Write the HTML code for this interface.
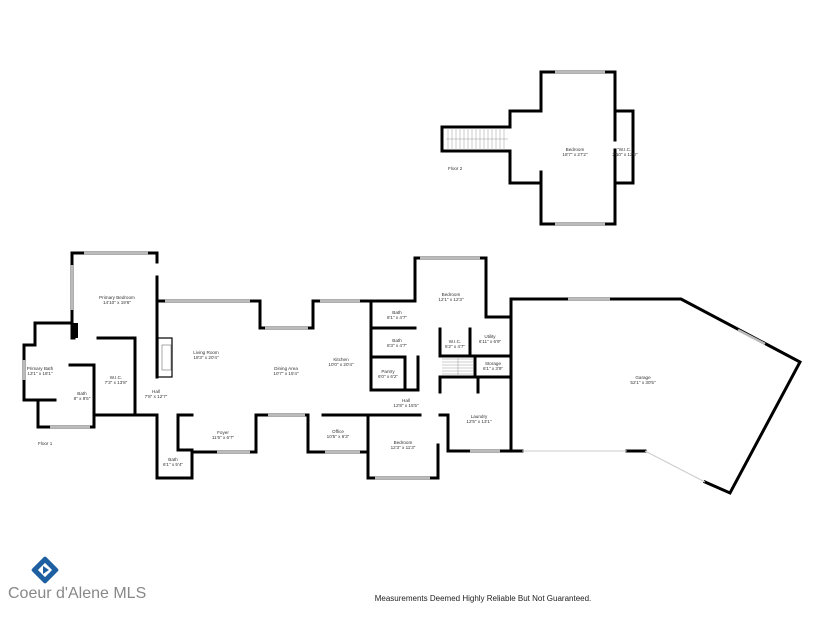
<!DOCTYPE html>
<html><head><style>
body{margin:0;background:#fff}
svg{display:block}
text{font-family:"Liberation Sans",sans-serif;font-size:4.6px;fill:#333;text-anchor:middle}
.w{fill:none;stroke:#000;stroke-width:3;stroke-linecap:square}
.t{fill:none;stroke:#000;stroke-width:1.6}
.win{stroke:#bbb;stroke-width:2.5}
</style></head><body>
<svg width="825" height="618" viewBox="0 0 825 618">
<!-- Floor 2 -->
<g class="w">
<polyline points="541,111 541,72 615,72 615,111 633,111 633,183 615,183 615,224 541,224 541,183 510,183 510,151"/>
<polyline points="541,111 510,111 510,127"/>
<polyline points="510,127 442,127 442,151 510,151"/>
<line x1="541" y1="183" x2="541" y2="172"/>
<line x1="615" y1="111" x2="615" y2="140"/>
<line x1="615" y1="150" x2="615" y2="183"/>
</g>
<g class="win"><line x1="555" y1="72" x2="605" y2="72"/><line x1="555" y1="224" x2="605" y2="224"/></g>
<g stroke="#999" stroke-width="0.5">
<line x1="446" y1="139" x2="508" y2="139"/>
<path d="M448 128v22M452 128v22M456 128v22M460 128v22M464 128v22M468 128v22M472 128v22M476 128v22M480 128v22M484 128v22M488 128v22M492 128v22M496 128v22M500 128v22M504 128v22"/>
</g>
<text x="575" y="151">Bedroom</text><text x="575" y="156">18'7" x 27'2"</text>
<text x="625" y="151">"W.I.C."</text><text x="625" y="156">2'10" x 12'0"</text>
<text x="448" y="170" style="text-anchor:start">Floor 2</text>

<!-- Floor 1 -->
<g class="w">
<polyline points="72,338 72,253 157,253 157,262"/>
<polyline points="157,277 157,377"/>
<polyline points="157,301 260,301 260,328 313,328 313,301 415,301 415,258 486,258 486,317 511,317 511,299"/>
<polyline points="24,345 35,345 35,323 72,323"/>
<polyline points="24,345 24,400 55,400"/>
<polyline points="38,400 38,427 94,427 94,365"/>
<polyline points="70,365 94,365"/>
<polyline points="98,338 135,338 135,415 157,415 157,478 192,478 192,450 178,450 178,415 192,415"/>
<polyline points="94,415 135,415"/>
<polyline points="192,452 256,452 256,415 305,415"/>
<polyline points="308,415 308,452 368,452"/>
<polyline points="323,415 368,415 368,478 438,478 438,445"/>
<polyline points="368,415 420,415"/>
<polyline points="440,415 448,415 448,451 511,451"/>
<polyline points="511,299 681,299 800,362 730,493 705,482"/>
<line x1="511" y1="299" x2="511" y2="451"/>
<line x1="511" y1="451" x2="522" y2="451"/>
<line x1="627" y1="451" x2="645" y2="451"/>
<polyline points="371,301 371,390 405,390 405,357 371,357"/>
<polyline points="371,328 415,328"/>
<polyline points="405,390 418,390 418,357"/>
<polyline points="440,329 440,356 470,356 470,329"/>
<polyline points="470,356 511,356"/>
<polyline points="475,356 475,377 511,377"/>
<polyline points="440,392 440,377 478,377 478,392"/>
<polyline points="74,329 74,338"/>
</g>
<rect x="72" y="323" width="6" height="15" fill="#000"/>
<g class="win">
<line x1="84" y1="253" x2="148" y2="253"/><line x1="165" y1="301" x2="250" y2="301"/>
<line x1="265" y1="328" x2="308" y2="328"/><line x1="320" y1="301" x2="360" y2="301"/>
<line x1="420" y1="258" x2="480" y2="258"/><line x1="568" y1="299" x2="610" y2="299"/>
<line x1="738" y1="330" x2="765" y2="344"/><line x1="50" y1="427" x2="90" y2="427"/>
<line x1="217" y1="452" x2="250" y2="452"/><line x1="268" y1="415" x2="305" y2="415"/>
<line x1="325" y1="452" x2="360" y2="452"/><line x1="375" y1="478" x2="430" y2="478"/>
<line x1="470" y1="451" x2="500" y2="451"/><line x1="72" y1="265" x2="72" y2="310"/>
<line x1="24" y1="360" x2="24" y2="380"/>
</g>
<line x1="645" y1="451" x2="705" y2="482" stroke="#ccc" stroke-width="1"/>
<line x1="522" y1="451" x2="627" y2="451" stroke="#ccc" stroke-width="1"/>
<rect x="158" y="338" width="14" height="39" fill="none" stroke="#000" stroke-width="1.2"/>
<rect x="162" y="345" width="9" height="25" fill="none" stroke="#555" stroke-width="0.5"/>
<g stroke="#999" stroke-width="0.5"><path d="M442 359h32M442 362h32M442 365h32M442 368h32M442 371h32M442 374h32"/><line x1="458" y1="358" x2="458" y2="376"/></g>
<text x="117" y="299">Primary Bedroom</text><text x="117" y="304">14'10" x 19'6"</text>
<text x="40" y="370">Primary Bath</text><text x="40" y="375">13'1" x 18'1"</text>
<text x="82" y="395">Bath</text><text x="82" y="400">8" x 8'5"</text>
<text x="116" y="379">W.I.C.</text><text x="116" y="384">7'3" x 13'8"</text>
<text x="206" y="354">Living Room</text><text x="206" y="359">18'3" x 20'4"</text>
<text x="286" y="370">Dining Area</text><text x="286" y="375">10'7" x 15'4"</text>
<text x="341" y="361">Kitchen</text><text x="341" y="366">10'0" x 20'4"</text>
<text x="156" y="393">Hall</text><text x="156" y="398">7'8" x 12'7"</text>
<text x="223" y="434">Foyer</text><text x="223" y="439">11'6" x 6'7"</text>
<text x="173" y="461">Bath</text><text x="173" y="466">6'1" x 5'4"</text>
<text x="338" y="433">Office</text><text x="338" y="438">10'5" x 6'3"</text>
<text x="403" y="444">Bedroom</text><text x="403" y="449">12'3" x 11'3"</text>
<text x="397" y="314">Bath</text><text x="397" y="319">8'1" x 4'7"</text>
<text x="397" y="342">Bath</text><text x="397" y="347">8'3" x 4'7"</text>
<text x="388" y="373">Pantry</text><text x="388" y="378">6'0" x 6'2"</text>
<text x="406" y="402">Hall</text><text x="406" y="407">12'8" x 15'5"</text>
<text x="451" y="296">Bedroom</text><text x="451" y="301">12'1" x 12'3"</text>
<text x="455" y="343">W.I.C.</text><text x="455" y="348">5'2" x 4'7"</text>
<text x="490" y="338">Utility</text><text x="490" y="343">6'11" x 6'9"</text>
<text x="493" y="365">Storage</text><text x="493" y="370">6'1" x 3'9"</text>
<text x="479" y="418">Laundry</text><text x="479" y="423">12'5" x 13'1"</text>
<text x="643" y="379">Garage</text><text x="643" y="384">52'1" x 30'5"</text>
<text x="38" y="445" style="text-anchor:start">Floor 1</text>
<!-- logo -->
<g transform="translate(45,570) rotate(45)"><rect x="-10" y="-10" width="20" height="20" fill="#1d5fa0" rx="2"/><rect x="-5" y="-5" width="10" height="10" fill="#fff"/></g>
<polygon points="43,566 43,574 49,570" fill="#1d5fa0"/>
<text x="8" y="598" style="text-anchor:start;font-size:16px;fill:#888">Coeur d'Alene MLS</text>
<text x="483" y="601" style="font-size:8px;fill:#222">Measurements Deemed Highly Reliable But Not Guaranteed.</text>
</svg>
</body></html>
